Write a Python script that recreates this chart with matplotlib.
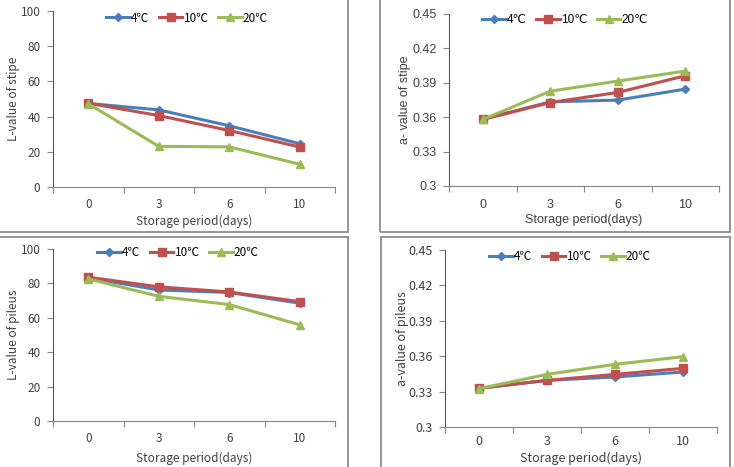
import numpy as np
import matplotlib.pyplot as plt
from matplotlib.patches import Rectangle

# Daten
days = ["0", "3", "6", "10"]
series = ["4\u2103", "10\u2103", "20\u2103"]

L_stipe_4 = [47.5, 43.8, 34.8, 24.6]
L_stipe_10 = [47.6, 40.6, 32.1, 22.7]
L_stipe_20 = [47.3, 23.1, 22.8, 12.9]

a_stipe_4 = [0.3583, 0.3734, 0.3749, 0.3845]
a_stipe_10 = [0.3580, 0.3728, 0.3816, 0.3961]
a_stipe_20 = [0.3580, 0.3827, 0.3915, 0.4002]

L_pileus_4 = [83.2, 76.2, 74.7, 68.5]
L_pileus_10 = [83.6, 78.0, 75.0, 69.4]
L_pileus_20 = [82.6, 72.5, 67.7, 55.9]

a_pileus_4 = [0.3328, 0.3395, 0.3424, 0.3466]
a_pileus_10 = [0.3328, 0.3395, 0.3446, 0.3497]
a_pileus_20 = [0.3325, 0.3446, 0.3531, 0.3596]

W, H = 734, 467
fig = plt.figure(figsize=(W / 100, H / 100), dpi=100)

colors = ["#4A7EBB", "#C0504D", "#9BBB59"]
markers = ["D", "s", "^"]
msizes = [4.0, 5.5, 6.0]
txt = "#404040"

def px_ax(l, r, t, b):
    return fig.add_axes([l / W, 1 - b / H, (r - l) / W, (b - t) / H])

def panel(box, data, yticks, ylim, ylabel, font, fs, legfs, ylab_x, xlab_y, leg_xy, tickpad):
    ax = px_ax(*box)
    x = np.arange(len(days))
    for i, ys in enumerate(data):
        ax.plot(x, ys, color=colors[i], marker=markers[i], ms=msizes[i], lw=2.2,
                label=series[i], zorder=3 + i)
    ax.set_xlim(-0.5, 3.5)
    ax.set_ylim(*ylim)
    ax.set_yticks(yticks)
    ax.set_yticklabels([f"{v:g}" for v in yticks], fontfamily=font, fontsize=fs, color=txt)
    # Kategorie-Ticks zwischen den Kategorien, Beschriftung mittig
    ax.set_xticks(np.arange(-0.5, 4, 1))
    ax.set_xticklabels([])
    ax.set_xticks(x, minor=True)
    ax.set_xticklabels(days, minor=True, fontfamily=font, fontsize=fs, color=txt)
    ax.tick_params(axis="x", which="minor", length=0, pad=tickpad)
    ax.tick_params(axis="x", which="major", length=4, color="#868686", direction="out")
    ax.tick_params(axis="y", length=4, color="#868686", pad=5)
    for s in ["top", "right"]:
        ax.spines[s].set_visible(False)
    ax.spines["left"].set_color("#555555")
    ax.spines["bottom"].set_color("#868686")
    # Achsentitel
    l, r, t, b = box
    fig.text(ylab_x / W, 1 - (t + b) / 2 / H, ylabel, rotation=90, ha="center", va="center",
             fontfamily=font, fontsize=fs, color=txt)
    fig.text((l + r) / 2 / W, 1 - xlab_y / H, "Storage period(days)", ha="center", va="center",
             fontfamily=font, fontsize=fs, color=txt)
    ax.legend(loc="center", bbox_to_anchor=(leg_xy[0] / W, 1 - leg_xy[1] / H),
              bbox_transform=fig.transFigure, ncol=3, frameon=False, handlelength=2.0,
              handletextpad=0.1, columnspacing=0.8, borderpad=0,
              prop={"family": font, "size": legfs})
    return ax

kr = ["Noto Sans CJK KR", "DejaVu Sans"]
ar = ["Liberation Sans", "DejaVu Sans"]

panel((53, 335, 11, 187), [L_stipe_4, L_stipe_10, L_stipe_20], [0, 20, 40, 60, 80, 100], (0, 100),
      "L-value of stipe", kr, 8.5, 8.5, 13, 221, (187, 18), 8)
panel((449, 719, 14, 186), [a_stipe_4, a_stipe_10, a_stipe_20],
      [0.30, 0.33, 0.36, 0.39, 0.42, 0.45], (0.3, 0.45),
      "a- value of stipe", ar, 9, 8.5, 405, 220, (565, 20), 9)
panel((53, 335, 249, 421), [L_pileus_4, L_pileus_10, L_pileus_20], [0, 20, 40, 60, 80, 100], (0, 100),
      "L-value of pileus", kr, 8.5, 8.5, 13, 458, (178, 253), 8)
panel((445, 717, 250, 427), [a_pileus_4, a_pileus_10, a_pileus_20],
      [0.30, 0.33, 0.36, 0.39, 0.42, 0.45], (0.3, 0.45),
      "a-value of pileus", kr, 9, 8.5, 403, 458, (570, 257), 6)

# Rahmen der Einzelbilder
for (x0, y0, x1, y1) in [(-5, -5, 348, 232), (380, -5, 730, 232), (-5, 237, 348, 475), (381, 237, 730, 475)]:
    fig.add_artist(Rectangle((x0 / W, 1 - y1 / H), (x1 - x0) / W, (y1 - y0) / H,
                             transform=fig.transFigure, fill=False, ec="#8c8c8c", lw=1.3))

fig.savefig("out.png", dpi=100)
